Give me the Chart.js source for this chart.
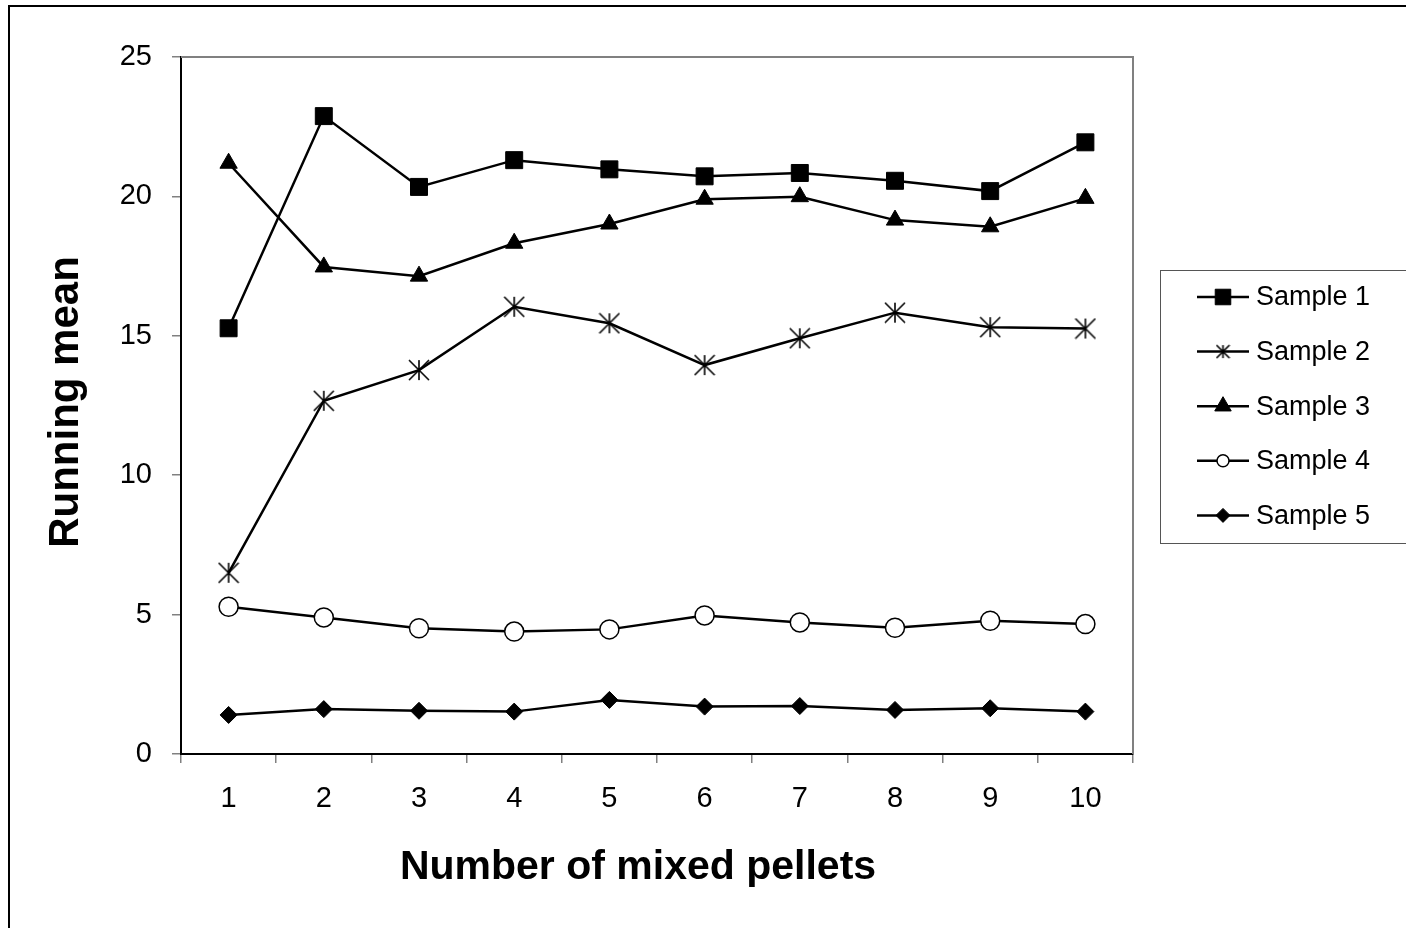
<!DOCTYPE html>
<html>
<head>
<meta charset="utf-8">
<script src="https://cdn.jsdelivr.net/npm/chart.js@4/dist/chart.umd.min.js"></script>
<style>
  html, body { margin: 0; padding: 0; background: #fff; }
  #wrap { width: 1406px; height: 928px; }
</style>
</head>
<body>
<div id="wrap"><canvas id="chart" width="1406" height="928"></canvas></div>
<script>
const pellets = ['1', '2', '3', '4', '5', '6', '7', '8', '9', '10'];
const sample1 = [15.27, 22.88, 20.34, 21.30, 20.97, 20.72, 20.84, 20.56, 20.19, 21.94];
const sample2 = [6.50, 12.67, 13.77, 16.04, 15.45, 13.95, 14.91, 15.83, 15.31, 15.26];
const sample3 = [21.19, 17.47, 17.14, 18.32, 19.01, 19.90, 19.99, 19.15, 18.91, 19.93];
const sample4 = [5.28, 4.90, 4.51, 4.39, 4.47, 4.97, 4.72, 4.53, 4.78, 4.66];
const sample5 = [1.40, 1.61, 1.55, 1.52, 1.94, 1.70, 1.72, 1.58, 1.64, 1.52];
const seriesNames = ['Sample 1', 'Sample 2', 'Sample 3', 'Sample 4', 'Sample 5'];
const yTicks = [0, 5, 10, 15, 20, 25];

const FONT = '"Liberation Sans", Arial, sans-serif';

// excel style asterisk: vertical bar plus an X
function asterisk(size) {
  const c = document.createElement('canvas');
  c.width = size; c.height = size;
  const g = c.getContext('2d');
  const m = size / 2, a = size / 2 - 1;
  g.strokeStyle = '#000';
  g.lineWidth = 1.6;
  g.beginPath();
  g.moveTo(m, m - a); g.lineTo(m, m + a);
  g.moveTo(m - a, m - a); g.lineTo(m + a, m + a);
  g.moveTo(m + a, m - a); g.lineTo(m - a, m + a);
  g.stroke();
  return c;
}

const markers = [
  { style: 'rect', radius: 12, bg: '#000', bw: 1, legendRadius: 11 },
  { style: asterisk(22), radius: 11, bg: '#000', bw: 1, legend: asterisk(15) },
  { style: 'triangle', radius: 10, bg: '#000', bw: 1, legendRadius: 9.5 },
  { style: 'circle', radius: 9.5, bg: '#fff', bw: 1.5, legendRadius: 6 },
  { style: 'rectRot', radius: 8.5, bg: '#000', bw: 1, legendRadius: 7 }
];

const values = [sample1, sample2, sample3, sample4, sample5];

const datasets = values.map((v, i) => ({
  label: seriesNames[i],
  data: v,
  borderColor: '#000',
  borderWidth: 2.5,
  tension: 0,
  pointStyle: markers[i].style,
  pointRadius: markers[i].radius,
  pointBackgroundColor: markers[i].bg,
  pointBorderColor: '#000',
  pointBorderWidth: markers[i].bw,
  clip: false
}));

const framePlugin = {
  id: 'frame',
  beforeDraw(chart) {
    const ctx = chart.ctx;
    ctx.save();
    ctx.fillStyle = '#fff';
    ctx.fillRect(0, 0, chart.width, chart.height);
    ctx.strokeStyle = '#000';
    ctx.lineWidth = 2;
    ctx.strokeRect(9, 6, chart.width, chart.height);
    ctx.restore();
  },
  beforeDatasetsDraw(chart) {
    const { ctx, chartArea: a } = chart;
    ctx.save();
    ctx.strokeStyle = '#808080';
    ctx.lineWidth = 2;
    ctx.beginPath();
    ctx.moveTo(a.left, a.top);
    ctx.lineTo(a.right, a.top);
    ctx.lineTo(a.right, a.bottom);
    ctx.stroke();
    ctx.restore();
  },
  afterDraw(chart) {
    const { ctx, chartArea: a } = chart;
    ctx.save();

    // axis titles
    ctx.fillStyle = '#000';
    ctx.font = 'bold 41px ' + FONT;
    ctx.textAlign = 'center';
    ctx.textBaseline = 'alphabetic';
    ctx.fillText('Number of mixed pellets', 638, 879);
    ctx.translate(78, 402);
    ctx.rotate(-Math.PI / 2);
    ctx.font = 'bold 42px ' + FONT;
    ctx.fillText('Running mean', 0, 0);
    ctx.setTransform(1, 0, 0, 1, 0, 0);

    // legend
    ctx.strokeStyle = '#555';
    ctx.lineWidth = 1;
    ctx.strokeRect(1160.5, 270.5, 260, 273);
    ctx.font = '27px ' + FONT;
    ctx.textAlign = 'left';
    ctx.textBaseline = 'middle';
    seriesNames.forEach((name, i) => {
      const y = 297 + i * 54.6;
      ctx.strokeStyle = '#000';
      ctx.lineWidth = 2.5;
      ctx.beginPath();
      ctx.moveTo(1197, y);
      ctx.lineTo(1249, y);
      ctx.stroke();
      const m = markers[i];
      ctx.fillStyle = m.bg;
      ctx.strokeStyle = '#000';
      ctx.lineWidth = m.bw;
      Chart.helpers.drawPoint(ctx, {
        pointStyle: m.legend || m.style,
        radius: m.legendRadius || m.radius,
        rotation: 0,
        borderWidth: m.bw
      }, 1223, y);
      ctx.fillStyle = '#000';
      ctx.fillText(name, 1256, y + 1);
    });
    ctx.restore();
  }
};

new Chart(document.getElementById('chart'), {
  type: 'line',
  data: { labels: pellets, datasets: datasets },
  plugins: [framePlugin],
  options: {
    responsive: false,
    animation: false,
    layout: { padding: { left: 0, top: 57, right: 273, bottom: 0 } },
    plugins: {
      legend: { display: false },
      tooltip: { enabled: false }
    },
    scales: {
      x: {
        type: 'category',
        offset: true,
        grid: { offset: true, drawOnChartArea: false, tickLength: 9, color: '#808080', lineWidth: 1.5 },
        border: { color: '#000', width: 2 },
        ticks: { padding: 19, color: '#000', maxRotation: 0, font: { family: FONT, size: 29 } },
        afterFit: s => { s.height = 928 - 754; }
      },
      y: {
        min: 0,
        max: 25,
        afterBuildTicks: s => { s.ticks = yTicks.map(v => ({ value: v })); },
        grid: { drawOnChartArea: false, tickLength: 9, color: '#808080', lineWidth: 1.5 },
        border: { color: '#000', width: 2 },
        ticks: { padding: 20, color: '#000', font: { family: FONT, size: 29 } },
        afterFit: s => { s.width = 181; }
      }
    }
  }
});
</script>
</body>
</html>
